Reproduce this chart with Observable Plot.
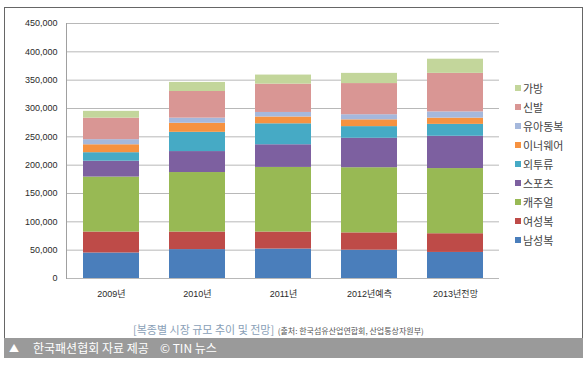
<!DOCTYPE html>
<html>
<head>
<meta charset="utf-8">
<script src="https://cdn.jsdelivr.net/npm/d3@7"></script>
<script src="https://cdn.jsdelivr.net/npm/@observablehq/plot@0.6"></script>
<style>
  html, body { margin: 0; padding: 0; background: #fff; }
  body { width: 588px; height: 365px; position: relative; overflow: hidden;
         font-family: "Noto Sans CJK KR", "Liberation Sans", sans-serif; }
  #box { position: absolute; left: 4px; top: 7px; width: 577px; height: 330px;
         border: 1px solid #666; box-sizing: content-box; }
  #chart { position: absolute; left: 0; top: 0; }
  #legend { position: absolute; left: 515px; top: 0; }
  .li { position: absolute; left: 0; white-space: nowrap; font-size: 11px; color: #444; line-height: 12px; }
  .li span.sw { position: absolute; left: 0; top: 3px; width: 6px; height: 6px; }
  .li span.tx { position: absolute; left: 8px; top: 0; }
  #caption { position: absolute; left: 133px; top: 315px; white-space: nowrap; }
  #caption .main { font-size: 11px; color: #8a9fb7; }
  #caption .src { font-size: 8px; color: #555; }
  #band { position: absolute; left: 4px; top: 338px; width: 579px; height: 20px; background: #9a9a9a;
          color: #fff; font-size: 12px; line-height: 20px; white-space: nowrap; }
</style>
</head>
<body>
<div id="box"></div>
<div id="chart"></div>
<div id="legend"></div>
<div id="caption"><span class="main">[복종별 시장 규모 추이 및 전망]</span> <span class="src">(출처: 한국섬유산업연합회, 산업통상자원부)</span></div>
<div id="band"><span style="position:absolute;left:5px;font-size:10px;">▲</span><span style="position:absolute;left:29px;">한국패션협회 자료 제공</span><span style="position:absolute;left:156px;">© TIN 뉴스</span></div>
<script>
const years = ["2009년", "2010년", "2011년", "2012년예측", "2013년전망"];
const seriesNames = ["남성복", "여성복", "캐주얼", "스포츠", "외투류", "이너웨어", "유아동복", "신발", "가방"];
const 남성복 = [45000, 51000, 52000, 50000, 46000];
const 여성복 = [37000, 31000, 30000, 30500, 33000];
const 캐주얼 = [97000, 105000, 114000, 115000, 115000];
const 스포츠 = [28000, 37000, 40000, 52000, 57000];
const 외투류 = [15000, 34000, 37000, 20500, 21000];
const 이너웨어 = [14000, 16000, 12000, 12000, 11000];
const 유아동복 = [9000, 9000, 8000, 9000, 11000];
const 신발 = [38000, 47000, 50000, 55000, 68000];
const 가방 = [12000, 16000, 16000, 18000, 25000];
const yTicks = [0, 50000, 100000, 150000, 200000, 250000, 300000, 350000, 400000, 450000];
const colors = ["#4a7ebb", "#be4b48", "#98b954", "#7d60a0", "#46aac5", "#f69240", "#a5b8dc", "#d99694", "#c3d69b"];

const seriesValues = [남성복, 여성복, 캐주얼, 스포츠, 외투류, 이너웨어, 유아동복, 신발, 가방];
const data = [];
seriesNames.forEach((s, i) => {
  years.forEach((y, j) => data.push({year: y, series: s, value: seriesValues[i][j]}));
});

const plot = Plot.plot({
  width: 588,
  height: 305,
  marginLeft: 66,
  marginRight: 89,
  marginTop: 23,
  marginBottom: 27,
  style: {fontFamily: "'Liberation Sans', 'Noto Sans CJK KR', sans-serif", fontSize: "9px", color: "#2a2a2a", background: "transparent"},
  x: {domain: years, paddingInner: 0.35, paddingOuter: 0.18, label: null, tickSize: 0, tickPadding: 12},
  y: {domain: [0, 450000], ticks: yTicks, tickFormat: d3.format(","), label: null, tickSize: 0, tickPadding: 9},
  color: {domain: seriesNames, range: colors},
  marks: [
    Plot.gridY(yTicks, {stroke: "#b8b8b8", strokeOpacity: 1}),
    Plot.frame({anchor: "left", stroke: "#a0a0a0"}),
    Plot.barY(data, {x: "year", y: "value", fill: "series", order: seriesNames})
  ]
});
document.getElementById("chart").appendChild(plot);

const legend = document.getElementById("legend");
const revNames = seriesNames.slice().reverse();
const revColors = colors.slice().reverse();
revNames.forEach((s, i) => {
  const d = document.createElement("div");
  d.className = "li";
  d.style.top = (82 + 19 * i) + "px";
  d.innerHTML = `<span class="sw" style="background:${revColors[i]}"></span><span class="tx">${s}</span>`;
  legend.appendChild(d);
});
</script>
</body>
</html>
